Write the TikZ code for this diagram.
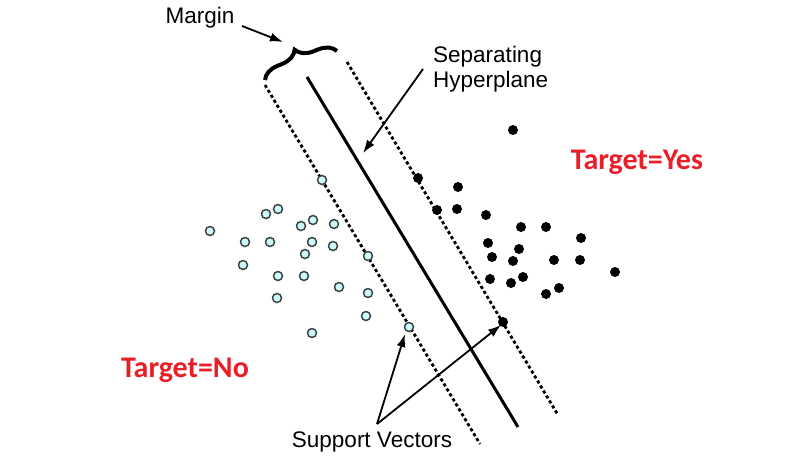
\documentclass[tikz,border=0pt]{standalone}
\usepackage{fontspec}
\setmainfont{Liberation Sans}
\newfontfamily\targetfont{Carlito}
\usetikzlibrary{arrows.meta,decorations.pathreplacing}
\definecolor{tgtred}{RGB}{234,30,40}
\definecolor{cyanfill}{RGB}{205,250,250}
\definecolor{ringgray}{RGB}{60,70,70}
\begin{document}
\begin{tikzpicture}[x=1pt,y=-1pt,
  opendot/.style={circle,draw=ringgray,fill=cyanfill,line width=1.5pt,minimum size=9pt,inner sep=0pt},
  fulldot/.style={circle,fill=black,minimum size=10pt,inner sep=0pt},
  marginline/.style={line width=2.8pt,dash pattern=on 3.2pt off 2.6pt},
  hyperline/.style={line width=3pt},
  pointer/.style={line width=1.8pt,-{Latex[length=13pt,width=9pt]}},
  lbl/.style={font=\fontsize{22.5}{25}\selectfont,inner sep=0pt},
  tgt/.style={font=\targetfont\bfseries\fontsize{30}{32}\selectfont,text=tgtred,inner sep=0pt}]
\useasboundingbox (0,0) rectangle (805,474);
% lines
\coordinate (L1) at (265,85);  \coordinate (L2) at (480,444);
\coordinate (H1) at (307,77);  \coordinate (H2) at (518,427);
\coordinate (R1) at (347,62);  \coordinate (R2) at (558,415);
\draw[marginline] (L1) -- (L2);
\draw[hyperline] (H1) -- (H2);
\draw[marginline] (R1) -- (R2);
% brace
\coordinate (B1) at (265,80); \coordinate (B2) at (337,51);
\draw[line width=4pt,decorate,decoration={brace,amplitude=17pt}] (B1) -- (B2);
% open circles
\foreach \x/\y [count=\i] in {322/180,266/214,278/209,210/231,301/226,313/220,334/224,245/242,270/242,312/242,333/246,305/254,368/256,243/265,278/276,304/276,339/287,368/293,277/298,366/316,312/333,409/327}
  \node[opendot] (o\i) at (\x,\y) {};
% filled dots
\foreach \x/\y [count=\i] in {513/130,418/178,458/187,437/210,457/209,486/215,521/227,546/227,581/238,488/243,519/249,492/257,513/261,554/260,580/260,615/272,490/279,511/283,523/277,546/294,559/288,503/322}
  \node[fulldot] (f\i) at (\x,\y) {};
% labels
\node[lbl] (margin) at (200,18) {Margin};
\coordinate (marginfrom) at (242,26);
\coordinate (marginto) at (283,42);
\draw[pointer] (marginfrom) -- (marginto);
\node[lbl,align=left,anchor=west] (sep) at (433,69) {Separating\\Hyperplane};
\coordinate (sepfrom) at (423,69);
\coordinate (septo) at (363,153);
\draw[pointer] (sepfrom) -- (septo);
\node[lbl] (sv) at (372,442) {Support Vectors};
\coordinate (svroot) at (377,424);
\draw[pointer] (svroot) -- (405,334);
\draw[pointer] (svroot) -- (501,325);
\node[tgt] (yes) at (637,162) {Target=Yes};
\node[tgt] (no) at (185,370) {Target=No};
\end{tikzpicture}
\end{document}
